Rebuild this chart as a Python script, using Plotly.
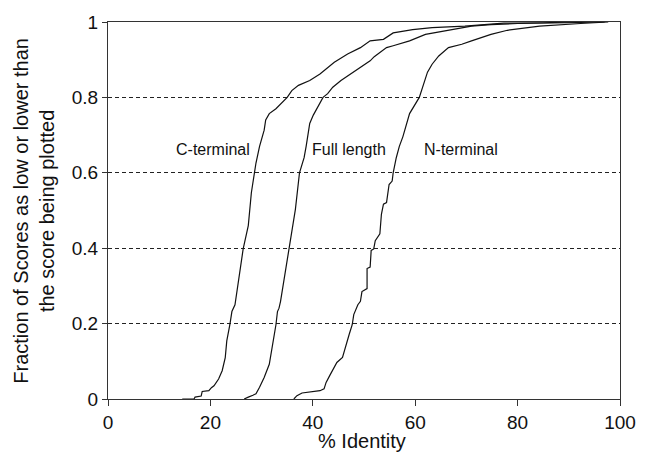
import plotly.graph_objects as go

# Cumulative fraction curves (x = % identity, y = fraction)
c_term_x = [14.5, 16.8, 17.0, 18.2, 18.4, 19.7, 20.2, 20.7, 21.6, 22.3, 22.9, 23.2, 23.8, 24.2, 24.8,
            25.7, 26.4, 27.4, 28.0, 28.6, 28.9, 29.6, 30.5, 30.8, 31.5, 32.8, 34.3, 35.0, 35.9, 37.2,
            39.4, 41.4, 44.2, 46.8, 49.3, 51.2, 53.8, 55.1, 55.7, 59.5, 63.3, 69.7, 74.2, 77.3, 85.0, 92.0]
c_term_y = [0.0, 0.0, 0.005, 0.008, 0.02, 0.022, 0.03, 0.035, 0.053, 0.075, 0.11, 0.154, 0.197, 0.232, 0.25,
            0.329, 0.398, 0.46, 0.547, 0.6, 0.626, 0.67, 0.713, 0.74, 0.757, 0.77, 0.792, 0.8, 0.818, 0.832,
            0.845, 0.862, 0.893, 0.915, 0.932, 0.95, 0.954, 0.967, 0.971, 0.98, 0.985, 0.989, 0.993, 0.997, 0.998, 1.0]

full_x = [26.6, 27.0, 27.4, 28.3, 28.9, 29.6, 30.5, 31.5, 32.2, 32.8, 33.1, 33.4, 33.7, 34.3, 35.3, 36.6,
          37.4, 38.0, 38.3, 38.7, 39.4, 40.1, 41.0, 42.0, 42.9, 43.9, 45.5, 47.4, 49.3, 51.2, 52.0, 53.1,
          54.4, 55.7, 58.9, 62.0, 67.1, 71.0, 74.8, 80.0, 90.0, 97.0]
full_y = [0.0, 0.003, 0.005, 0.01, 0.014, 0.031, 0.057, 0.092, 0.145, 0.197, 0.232, 0.241, 0.259, 0.311, 0.398, 0.503,
          0.6, 0.626, 0.64, 0.67, 0.731, 0.753, 0.775, 0.8, 0.81, 0.827, 0.845, 0.862, 0.88, 0.897, 0.908, 0.919,
          0.932, 0.937, 0.95, 0.967, 0.98, 0.989, 0.993, 0.996, 0.998, 1.0]

n_term_x = [36.3, 36.9, 37.9, 41.4, 42.2, 42.6, 43.3, 44.2, 44.7, 45.8, 46.5, 47.1, 47.7, 48.0, 48.8, 49.3,
            49.6, 50.6, 50.6, 51.2, 51.4, 51.9, 52.2, 53.1, 53.4, 53.8, 54.4, 54.9, 55.5, 55.7, 56.3, 56.9,
            57.6, 58.9, 60.8, 61.7, 62.4, 63.3, 64.6, 66.5, 69.1, 71.0, 72.9, 74.8, 78.0, 82.4, 84.3, 92.3, 97.7]
n_term_y = [0.0, 0.009, 0.016, 0.022, 0.027, 0.044, 0.062, 0.083, 0.097, 0.11, 0.145, 0.171, 0.197, 0.224, 0.25, 0.259,
            0.285, 0.293, 0.346, 0.35, 0.394, 0.398, 0.42, 0.438, 0.49, 0.517, 0.521, 0.569, 0.578, 0.6, 0.64, 0.67,
            0.696, 0.757, 0.8, 0.836, 0.867, 0.888, 0.91, 0.932, 0.941, 0.95, 0.958, 0.967, 0.978, 0.985, 0.989, 0.996, 1.0]

labels = ["C-terminal", "Full length", "N-terminal"]
label_x = [20.5, 47.1, 68.9]
label_y = [0.663, 0.663, 0.663]

x_ticks = [0, 20, 40, 60, 80, 100]
y_ticks = [0, 0.2, 0.4, 0.6, 0.8, 1]
y_tick_text = ["0", "0.2", "0.4", "0.6", "0.8", "1"]

FONT = "Arial, 'Liberation Sans', sans-serif"

fig = go.Figure()
for xs, ys, name in [(c_term_x, c_term_y, labels[0]), (full_x, full_y, labels[1]), (n_term_x, n_term_y, labels[2])]:
    fig.add_trace(go.Scatter(x=xs, y=ys, mode="lines", name=name,
                             line=dict(color="#111", width=1.2), showlegend=False))

for t, lx, ly in zip(labels, label_x, label_y):
    fig.add_annotation(x=lx, y=ly, text=t, showarrow=False, xanchor="center", yanchor="middle",
                       font=dict(family=FONT, size=16, color="#111"))

fig.add_annotation(xref="paper", yref="paper", x=-0.146, y=0.5,
                   text="Fraction of Scores as low or lower than<br>the score being plotted",
                   textangle=-90, showarrow=False, xanchor="center", yanchor="middle",
                   font=dict(family=FONT, size=20, color="#111"))
fig.add_annotation(xref="paper", yref="paper", x=0.497, y=-0.112, text="% Identity",
                   showarrow=False, xanchor="center", yanchor="middle",
                   font=dict(family=FONT, size=20, color="#111"))

fig.update_layout(
    width=648, height=458, autosize=False,
    margin=dict(l=108, r=16, t=17, b=59, pad=0),
    paper_bgcolor="white", plot_bgcolor="white",
    font=dict(family=FONT, size=19, color="#111"),
    xaxis=dict(range=[0, 100], tickvals=x_ticks, ticks="outside", ticklen=6, tickcolor="#333",
               showline=True, linecolor="#333", linewidth=1.3, mirror=True,
               showgrid=False, zeroline=False, tickfont=dict(size=19)),
    yaxis=dict(range=[0, 1], tickvals=y_ticks, ticktext=y_tick_text, ticks="outside", ticklen=5,
               tickcolor="#333", showline=True, linecolor="#333", linewidth=1.3, mirror=True,
               showgrid=True, gridcolor="#222", gridwidth=1, griddash="4px,3px",
               zeroline=False, tickfont=dict(size=19)),
)

fig.write_html("out.html")
